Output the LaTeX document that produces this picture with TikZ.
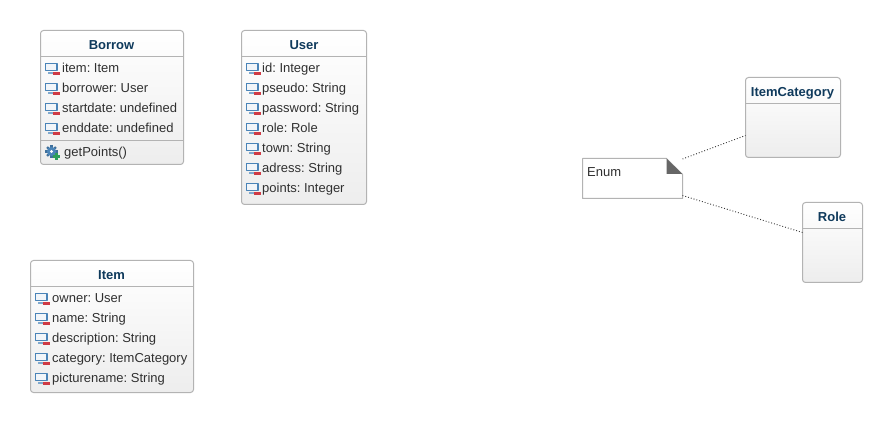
\documentclass[tikz,border=0pt]{standalone}
\usepackage{fontspec}
\setmainfont{Liberation Sans}
\frenchspacing
\definecolor{boxline}{HTML}{B3B3B3}
\definecolor{titleblue}{HTML}{0F3A5C}
\definecolor{textgray}{HTML}{303030}
\definecolor{iconblue}{HTML}{4A84B8}
\definecolor{iconred}{HTML}{CF3A44}
\definecolor{icongreen}{HTML}{2E9E5B}
\tikzset{
	classbox/.style={draw=boxline, line width=1pt, rounded corners=3pt, top color=white, bottom color=black!7, outer sep=0pt, inner sep=0pt},
	classtitle/.style={text=titleblue, font=\fontsize{13}{15}\selectfont\bfseries, anchor=base, inner sep=0pt},
	rowtext/.style={text=textgray, font=\fontsize{13}{15}\selectfont, anchor=base west, inner sep=0pt},
	classline/.style={draw=boxline, line width=1pt},
	notelink/.style={dotted, line width=.9pt, draw=black!80},
	attricon/.pic={
		\draw[iconblue, line width=1.3pt, fill=iconblue!8] (.5,-4.8) rectangle (12,2.8);
		\draw[iconblue!70, line width=1.1pt] (3,5)--(8,5);
		\fill[iconred] (8,4.4) rectangle (15,7);
	},
	gearicon/.pic={
		\foreach \a in {0,45,...,315}
		\draw[iconblue!85!black, line width=2.2pt] (\a:3.5)--(\a:6.2);
		\fill[iconblue] (0,0) circle (4.6pt);
		\fill[white] (0,0) circle (1.7pt);
		\draw[icongreen, line width=2.2pt] (1.5,5)--(8.5,5) (5,1.5)--(5,8.5);
	},
}
\begin{document}
\begin{tikzpicture}[x=1pt, y=-1pt, line join=round]
	\useasboundingbox (0,0) rectangle (892,422);
	\fill[white] (0,0) rectangle (892,422);
	
	% class boxes
	\node[classbox, minimum width=143pt, minimum height=134pt] (borrow) at (112,97.5) {};
	\node[classbox, minimum width=125pt, minimum height=174pt] (user) at (304,117.5) {};
	\node[classbox, minimum width=163pt, minimum height=132pt] (item) at (112,326.5) {};
	\node[classbox, minimum width=95pt, minimum height=80pt] (itemcategory) at (793,117.5) {};
	\node[classbox, minimum width=60pt, minimum height=80pt] (role) at (832.5,242.5) {};
	
	\node[classtitle] (borrowname) at (111.5,49.5) {Borrow};
	\node[classtitle] (username) at (304,49.5) {User};
	\node[classtitle] (itemname) at (111.5,279.5) {Item};
	\node[classtitle] (itemcategoryname) at (792.5,96.5) {ItemCategory};
	\node[classtitle] (rolename) at (832,221.5) {Role};
	
	\draw[classline] (40.5,56.5)--(183.5,56.5) (40.5,140.5)--(183.5,140.5);
	\draw[classline] (241.5,56.5)--(366.5,56.5);
	\draw[classline] (30.5,286.5)--(193.5,286.5);
	\draw[classline] (745.5,103.5)--(840.5,103.5);
	\draw[classline] (802.5,228.5)--(862.5,228.5);
	
	% attributes
	\foreach \t [count=\i from 0] in {item: Item,borrower: User,startdate: undefined,enddate: undefined}{
		\pic at (45,68+20*\i) {attricon};
		\node[rowtext] (borrowrow\i) at (62,72.5+20*\i) {\t};
	}
	\foreach \t [count=\i from 0] in {id: Integer,pseudo: String,password: String,role: Role,town: String,adress: String,points: Integer}{
		\pic at (246,68+20*\i) {attricon};
		\node[rowtext] (userrow\i) at (262,72.5+20*\i) {\t};
	}
	\foreach \t [count=\i from 0] in {owner: User,name: String,description: String,category: ItemCategory,picturename: String}{
		\pic at (35,298+20*\i) {attricon};
		\node[rowtext] (itemrow\i) at (52,302.5+20*\i) {\t};
	}
	
	% method
	\pic at (51.5,151.5) {gearicon};
	\node[rowtext] (getpoints) at (64,156.5) {getPoints()};
	
	% note
	\node[minimum width=100pt, minimum height=40pt, inner sep=0pt, outer sep=0pt] (enumnote) at (632.5,178.5) {};
	\draw[classline, fill=white] (enumnote.south west)--(enumnote.north west)--(666.5,158.5)--(682.5,174.5)--(enumnote.south east)--cycle;
	\fill[black!60] (666.5,158.5)--(682.5,174)--(666.5,174)--cycle;
	\node[rowtext] (enumtext) at (587,176.5) {Enum};
	
	\draw[notelink] ([yshift=-.5pt]enumnote.north east)--([yshift=22pt]itemcategory.south west);
	\draw[notelink] ([yshift=3pt]enumnote.south east)--([yshift=10pt]role.west);
\end{tikzpicture}
\end{document}
